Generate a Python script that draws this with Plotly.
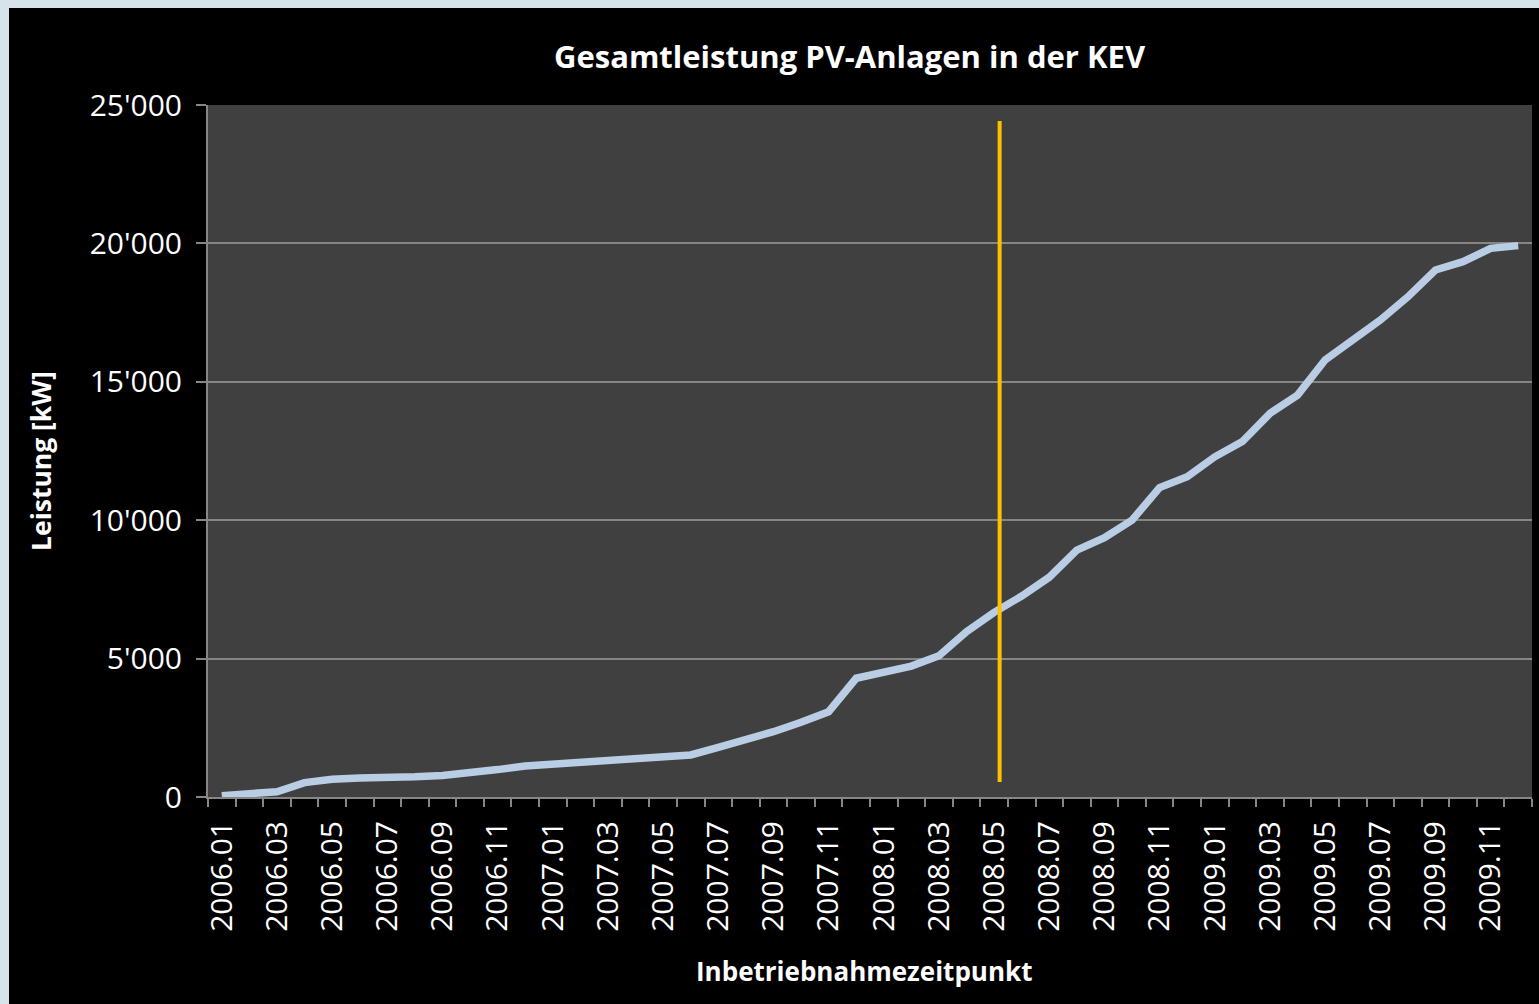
import plotly.graph_objects as go

# ---------------- data ----------------
months = [f"{y}.{m:02d}" for y in (2006, 2007, 2008, 2009) for m in range(1, 13)]
leistung_kw = [
    50, 130, 190, 520, 640, 690, 690, 735, 780, 855, 990, 1120,          # 2006
    1180, 1240, 1350, 1410, 1460, 1520, 1795, 2060, 2360, 2700, 3080, 4290,  # 2007
    4500, 4730, 5100, 5970, 6670, 7260, 7940, 8920, 9370, 10000, 11180, 11570,  # 2008
    12290, 12840, 13860, 14520, 15790, 16510, 17230, 18070, 19040, 19340, 19820, 19920,  # 2009
]
y_ticks = [0, 5000, 10000, 15000, 20000, 25000]
marker_month_pos = 28.2          # orange marker near 2008.05
marker_range = [540, 24420]

title_text = "Gesamtleistung PV-Anlagen in der KEV"
x_title = "Inbetriebnahmezeitpunkt"
y_title = "Leistung [kW]"

# ---------------- layout geometry ----------------
W, H = 1530, 996
ML, MR, MT, MB = 199, 7, 97, 207
PW, PH = W - ML - MR, H - MT - MB


def px_to_paper(fx, fy):
    return (fx - ML) / PW, ((H - fy) - MB) / PH


FONT = "Open Sans"
idx = list(range(len(months)))

fig = go.Figure()
fig.add_trace(go.Scatter(
    x=idx, y=leistung_kw, mode="lines",
    line=dict(color="#B9CDE5", width=7.5),
    hoverinfo="skip", showlegend=False,
))

fig.add_shape(type="line", xref="x", yref="y",
              x0=marker_month_pos, x1=marker_month_pos,
              y0=marker_range[0], y1=marker_range[1],
              line=dict(color="#FFC000", width=4))

tx, ty = px_to_paper(841, 48)
ax_, ay_ = px_to_paper(32, 453)
bx, by = px_to_paper(855, 963)
fig.add_annotation(text=f"<b>{title_text}</b>", x=tx, y=ty, xref="paper", yref="paper",
                   showarrow=False, xanchor="center", yanchor="middle",
                   font=dict(family=FONT, size=31, color="white"))
fig.add_annotation(text=f"<b>{y_title}</b>", x=ax_, y=ay_, xref="paper", yref="paper",
                   showarrow=False, xanchor="center", yanchor="middle", textangle=-90,
                   font=dict(family=FONT, size=26.5, color="white"))
fig.add_annotation(text=f"<b>{x_title}</b>", x=bx, y=by, xref="paper", yref="paper",
                   showarrow=False, xanchor="center", yanchor="middle",
                   font=dict(family=FONT, size=26, color="white"))

fig.update_layout(
    width=W, height=H,
    margin=dict(l=ML, r=MR, t=MT, b=MB, pad=0),
    paper_bgcolor="#000000",
    plot_bgcolor="#404040",
    separators=".'",
    showlegend=False,
    font=dict(family=FONT, color="white"),
)

fig.update_xaxes(
    range=[-0.5, len(months) - 0.5],
    tickmode="array",
    tickvals=idx[::2], ticktext=months[::2],
    tickangle=-90,
    ticks="outside", ticklen=0, tickcolor="#868686",
    ticklabelstandoff=10,
    tickfont=dict(family=FONT, size=30, color="white"),
    showgrid=False, zeroline=False,
    showline=True, linecolor="#868686", linewidth=2,
    minor=dict(ticks="outside", ticklen=8, tickwidth=2, tickcolor="#868686",
               tickmode="linear", tick0=-0.5, dtick=1, showgrid=False),
)
fig.update_yaxes(
    range=[0, 25000],
    tickmode="array", tickvals=y_ticks,
    tickformat=",d",
    ticks="outside", ticklen=10, tickwidth=2, tickcolor="#868686",
    ticklabelstandoff=8,
    tickfont=dict(family=FONT, size=30, color="white"),
    showgrid=True, gridcolor="#868686", gridwidth=1.5,
    zeroline=False,
    showline=True, linecolor="#868686", linewidth=2,
)

post = ("document.body.style.margin='8px 0 0 9px';"
        "document.body.style.background='#D6E3EA';"
        "document.body.style.overflow='hidden';")
fig.write_html("out.html", post_script=post)
